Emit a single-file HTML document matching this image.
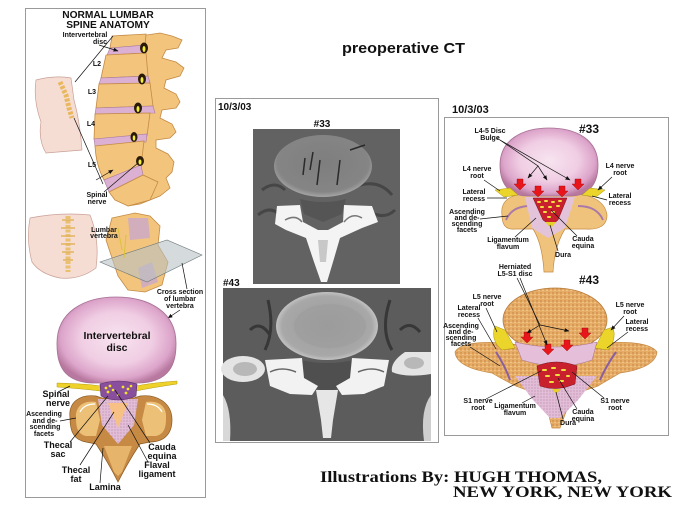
<!DOCTYPE html>
<html><head><meta charset="utf-8"><style>
html,body{margin:0;padding:0;background:#fff;}
svg{display:block;}
text{font-family:"Liberation Sans",sans-serif;font-weight:bold;fill:#111;}
.l{font-size:7px;text-anchor:middle;}
.m{font-size:9px;text-anchor:middle;}
.ln{stroke:#111;stroke-width:0.7;fill:none;}
.tan{fill:#f2c47c;stroke:#c48a44;stroke-width:0.8;}
.disc{fill:#dcb0d2;stroke:#a87a9e;stroke-width:0.6;}
.serif{font-family:"Liberation Serif",serif;font-weight:bold;}
</style></head><body>
<svg width="678" height="510" viewBox="0 0 678 510" xmlns="http://www.w3.org/2000/svg">
<defs>
 <radialGradient id="pk" cx="50%" cy="48%" r="55%">
  <stop offset="0" stop-color="#f7e4f0"/>
  <stop offset="0.55" stop-color="#f0cde3"/>
  <stop offset="0.85" stop-color="#dca4ca"/>
  <stop offset="1" stop-color="#b8789f"/>
 </radialGradient>
 <radialGradient id="ctb" cx="50%" cy="50%" r="55%">
  <stop offset="0" stop-color="#9a9a9a"/>
  <stop offset="0.8" stop-color="#a8a8a8"/>
  <stop offset="1" stop-color="#d8d8d8"/>
 </radialGradient>
 <radialGradient id="ctb2" cx="50%" cy="45%" r="55%">
  <stop offset="0" stop-color="#7e7e7e"/>
  <stop offset="0.85" stop-color="#858585"/>
  <stop offset="1" stop-color="#a6a6a6"/>
 </radialGradient>
 <pattern id="sp" width="4" height="4" patternUnits="userSpaceOnUse">
  <rect width="4" height="4" fill="#e6ac66"/>
  <circle cx="1" cy="1" r="0.7" fill="#c08040"/>
  <circle cx="3" cy="2.5" r="0.6" fill="#f7d9a3"/>
 </pattern>
 <pattern id="pp" width="3" height="3" patternUnits="userSpaceOnUse">
  <rect width="3" height="3" fill="#e2bdd8"/>
  <circle cx="1" cy="1" r="0.6" fill="#b88aa8"/>
 </pattern>
 <marker id="a" markerUnits="userSpaceOnUse" markerWidth="5" markerHeight="4" refX="4.5" refY="2" orient="auto">
  <path d="M0,0 L5,2 L0,4 z" fill="#111"/>
 </marker>
 <g id="rar"><path d="M-3,-5 L3,-5 L3,0 L6,0 L0,6 L-6,0 L-3,0 Z" fill="#e8151b" stroke="#9a0a0a" stroke-width="0.4"/></g>
</defs>

<!-- ============ LEFT PANEL ============ -->
<rect x="25.5" y="8.5" width="180" height="489" fill="#fff" stroke="#9a9a9a"/>
<text x="108" y="18" font-size="10.2" text-anchor="middle">NORMAL LUMBAR</text>
<text x="108" y="28" font-size="10.2" text-anchor="middle">SPINE ANATOMY</text>

<!-- torso side -->
<path d="M36,80 Q55,75 71,78 L74,100 Q80,122 82,150 L46,153 Q38,140 41,122 Q33,100 36,80 Z" fill="#f5ddd4" stroke="#c9a096" stroke-width="0.7"/>
<path d="M60,82 L66,95 L69,108 L72,118" stroke="#e9b85e" stroke-width="5" fill="none" stroke-dasharray="3 1.5"/>

<!-- spine posterior -->
<path class="tan" d="M140,36 L160,33 L172,36 L182,40 L178,48 L166,50 L162,58 L176,62 L184,68 L180,76 L166,80 L164,88 L176,94 L180,102 L176,108 L162,110 L160,118 L172,124 L176,132 L170,138 L156,140 L156,148 L168,154 L174,162 L172,172 L166,178 L170,188 L160,196 L150,200 L140,204 L128,206 L118,200 L138,176 L136,150 L140,130 L145,110 L148,85 L146,60 Z"/>
<!-- bodies -->
<path class="tan" d="M112,36 L146,34 L145,46 L110,48 Z"/>
<path class="disc" d="M110,48 L145,45 L145,53 L107,55 Z"/>
<path class="tan" d="M106,55 L146,53 L148,76 L101,78 Z"/>
<path class="disc" d="M101,78 L148,76 L150,83 L99,84 Z"/>
<path class="tan" d="M99,84 L150,83 L153,106 L96,108 Z"/>
<path class="disc" d="M96,108 L153,106 L155,113 L95,114 Z"/>
<path class="tan" d="M95,114 L150,113 L147,136 L94,139 Z"/>
<path class="disc" d="M94,139 L147,134 L146,142 L95,146 Z"/>
<path class="tan" d="M95,146 L144,141 L141,166 L104,180 Q96,165 95,146 Z"/>
<path class="disc" d="M104,180 L141,165 L143,175 L109,192 Z"/>
<path class="tan" d="M109,192 L143,175 L158,182 L150,200 L128,206 L115,200 Z"/>
<!-- foramina -->
<g fill="#2a1a08">
 <ellipse cx="144" cy="48" rx="4" ry="5.5"/>
 <ellipse cx="142" cy="79" rx="4" ry="5.5"/>
 <ellipse cx="138" cy="108" rx="4" ry="5.5"/>
 <ellipse cx="134" cy="137" rx="3.5" ry="5"/>
 <ellipse cx="140" cy="161" rx="4" ry="5"/>
</g>
<g fill="#f2ee3a">
 <ellipse cx="144" cy="49" rx="1.5" ry="3"/>
 <ellipse cx="142" cy="80" rx="1.5" ry="3"/>
 <ellipse cx="138" cy="109" rx="1.5" ry="3"/>
 <ellipse cx="134" cy="138" rx="1.3" ry="2.6"/>
 <ellipse cx="140" cy="162" rx="1.5" ry="2.6"/>
</g>
<text class="l" x="85" y="37" font-size="7.3">Intervertebral</text>
<text class="l" x="100" y="44">disc</text>
<line class="ln" x1="99" y1="45" x2="118" y2="51" marker-end="url(#a)"/>
<line class="ln" x1="75" y1="82" x2="113" y2="36"/>
<line class="ln" x1="74" y1="118" x2="103" y2="184"/>
<text class="l" x="97" y="66" font-size="6">L2</text>
<text class="l" x="92" y="94" font-size="6">L3</text>
<text class="l" x="91" y="126" font-size="6">L4</text>
<text class="l" x="92" y="167" font-size="6">L5</text>
<line class="ln" x1="96" y1="180" x2="113" y2="170" marker-end="url(#a)"/>
<line class="ln" x1="104" y1="192" x2="138" y2="163"/>
<text class="l" x="97" y="197">Spinal</text>
<text class="l" x="97" y="204">nerve</text>

<!-- back torso second row -->
<path d="M30,218 Q60,212 90,215 Q100,240 96,268 Q80,280 60,278 Q40,274 32,262 Q26,240 30,218 Z" fill="#f5ddd4" stroke="#c9a096" stroke-width="0.7"/>
<path d="M68,216 L68,272" stroke="#e9c070" stroke-width="5" stroke-dasharray="3 1.5"/>
<path d="M62,220 L74,220 M61,228 L75,228 M61,236 L75,236 M61,244 L75,244 M62,252 L74,252 M63,260 L73,260" stroke="#e3b35e" stroke-width="1.4"/>
<!-- vertebra 3D with plane -->
<path class="tan" d="M112,218 L135,213 L150,216 L160,226 L158,245 L168,262 L162,285 L145,292 L128,290 L118,276 L112,258 L106,240 Z"/>
<path d="M128,218 L148,218 L150,238 L130,240 Z" fill="#c9a8cc" opacity="0.8"/>
<path d="M138,268 L152,262 L158,282 L142,288 Z" fill="#c9a8cc" opacity="0.8"/>
<path d="M100,262 L167,240 L202,255 L147,282 Z" fill="#b9c2c4" fill-opacity="0.6" stroke="#6d7a7c" stroke-width="0.6"/>
<path d="M118,228 L122,250 M126,235 L124,258" stroke="#d9c33a" stroke-width="1"/>
<text class="l" x="104" y="232" font-size="5.5">Lumbar</text>
<text class="l" x="104" y="238" font-size="5.5">vertebra</text>
<line class="ln" x1="182" y1="263" x2="187" y2="289"/>
<text class="l" x="180" y="294" font-size="7.3">Cross section</text>
<text class="l" x="180" y="301" font-size="7.3">of lumbar</text>
<text class="l" x="180" y="308" font-size="7.3">vertebra</text>
<line class="ln" x1="180" y1="310" x2="168" y2="318" marker-end="url(#a)"/>

<!-- big disc -->
<path d="M57,345 C56,312 84,297 116,297 C149,297 177,312 176,345 C176,370 164,382 140,383 L92,383 C68,382 57,370 57,345 Z" fill="url(#pk)" stroke="#a77096" stroke-width="0.8"/>
<text x="117" y="339" font-size="10.5" text-anchor="middle">Intervertebral</text>
<text x="117" y="351" font-size="10.5" text-anchor="middle">disc</text>
<!-- nerve -->
<path d="M57,383 Q90,384 100,386 L136,386 Q150,383 177,381 L177,384 Q150,388 136,391 L100,391 Q85,389 57,387 Z" fill="#eed22a" stroke="#b59a12" stroke-width="0.5"/>
<!-- lower vertebra -->
<path d="M70,418 C68,402 80,394 96,396 L102,398 L134,398 L140,396 C156,394 172,402 172,420 C172,434 164,442 150,442 L140,444 C132,456 124,470 118,482 C112,470 104,456 96,444 L86,442 C74,440 70,432 70,418 Z" fill="#c68a45" stroke="#8a5a22" stroke-width="0.7"/>
<path d="M76,418 C75,406 84,400 96,402 L100,420 L96,436 L86,436 C78,434 76,428 76,418 Z" fill="#edc077"/>
<path d="M166,418 C167,406 158,400 146,402 L142,420 L146,436 L156,436 C164,434 166,428 166,418 Z" fill="#edc077"/>
<path d="M104,446 L132,446 L122,472 L118,476 L114,472 Z" fill="#e6b46b"/>
<path d="M98,399 L138,399 L134,425 L118,444 L102,425 Z" fill="url(#pp)"/>
<path d="M108,403 L128,403 L118,428 Z" fill="#f7c185"/>
<path d="M80,412 Q84,404 95,404" stroke="#fff" stroke-width="1.2" fill="none"/>
<path d="M162,412 Q158,404 147,404" stroke="#fff" stroke-width="1.2" fill="none"/>
<!-- thecal sac -->
<path d="M100,384 Q118,378 137,384 L136,396 Q118,404 101,396 Z" fill="#8a4f9c" stroke="#5a2d6a" stroke-width="0.6"/>
<g fill="#f2e22a">
 <circle cx="106" cy="388" r="1.4"/><circle cx="110" cy="386" r="1.4"/><circle cx="108" cy="392" r="1.4"/><circle cx="113" cy="390" r="1.3"/>
 <circle cx="123" cy="387" r="1.4"/><circle cx="128" cy="389" r="1.4"/><circle cx="126" cy="393" r="1.4"/><circle cx="131" cy="386" r="1.3"/><circle cx="118" cy="395" r="1.2"/>
</g>
<text class="m" x="56" y="397">Spinal</text>
<text class="m" x="58" y="406">nerve</text>
<line class="ln" x1="58" y1="392" x2="70" y2="386"/>
<text class="l" x="44" y="416" font-size="7.3">Ascending</text>
<text class="l" x="45" y="423" font-size="7.3">and de-</text>
<text class="l" x="45" y="429" font-size="7.3">scending</text>
<text class="l" x="44" y="436" font-size="7.3">facets</text>
<line class="ln" x1="60" y1="421" x2="76" y2="418"/>
<text class="m" x="58" y="448">Thecal</text>
<text class="m" x="58" y="457">sac</text>
<line class="ln" x1="70" y1="442" x2="108" y2="396"/>
<text class="m" x="162" y="450">Cauda</text>
<text class="m" x="162" y="459">equina</text>
<line class="ln" x1="150" y1="443" x2="115" y2="390"/>
<text class="m" x="157" y="468">Flaval</text>
<text class="m" x="157" y="477">ligament</text>
<line class="ln" x1="148" y1="462" x2="128" y2="425"/>
<text class="m" x="76" y="473">Thecal</text>
<text class="m" x="76" y="482">fat</text>
<line class="ln" x1="80" y1="465" x2="114" y2="412"/>
<text class="m" x="105" y="490">Lamina</text>
<line class="ln" x1="100" y1="483" x2="103" y2="448"/>

<!-- ============ TITLE ============ -->
<text x="342" y="53" font-size="15" textLength="123" lengthAdjust="spacingAndGlyphs">preoperative CT</text>

<!-- ============ MIDDLE PANEL ============ -->
<rect x="215.5" y="98.5" width="223" height="344" fill="#fff" stroke="#9a9a9a"/>
<text x="218" y="110" font-size="10">10/3/03</text>
<text x="322" y="127" font-size="10" text-anchor="middle">#33</text>
<!-- CT 33 -->
<rect x="253" y="129" width="147" height="155" fill="#626262"/>
<path d="M262,190 Q275,180 285,190 M360,185 Q380,180 392,195 M258,215 Q270,205 280,215 M370,212 Q385,220 395,210" stroke="#3a3a3a" stroke-width="3" fill="none" opacity="0.7"/>
<ellipse cx="323" cy="166" rx="49" ry="31" fill="url(#ctb2)"/>
<path d="M305,158 L303,175 M313,152 L310,170 M320,160 L317,185 M340,160 L337,185 M350,150 L365,145" stroke="#2a2a2a" stroke-width="1.5" fill="none"/>
<path d="M300,199 Q323,205 346,199 L342,214 L323,222 L304,214 Z" fill="#555"/>
<path d="M277,206 L300,205 L303,222 L318,230 L328,230 L343,222 L344,205 L372,206 L378,222 L362,228 L340,238 L333,262 L327,282 L321,282 L314,262 L306,238 L286,230 L275,224 Z" fill="#f4f4f4"/>
<path d="M285,220 Q296,214 302,222" stroke="#777" stroke-width="1.5" fill="none"/>
<path d="M362,218 Q352,212 344,222" stroke="#777" stroke-width="1.5" fill="none"/>
<path d="M318,240 L328,240 L326,262 L320,262 Z" fill="#c8c8c8"/>
<text x="223" y="286" font-size="10">#43</text>
<!-- CT 43 -->
<rect x="223" y="288" width="208" height="153" fill="#5c5c5c"/>
<path d="M268,300 Q275,330 265,350 M390,300 Q380,330 392,350 M250,330 Q260,320 270,335 M400,330 Q410,320 420,332" stroke="#2e2e2e" stroke-width="3" fill="none" opacity="0.8"/>
<ellipse cx="327" cy="326" rx="51" ry="34" fill="url(#ctb)"/>
<ellipse cx="330" cy="326" rx="36" ry="22" fill="#9c9c9c" opacity="0.6"/>
<path d="M300,360 Q327,366 354,360 L352,380 L327,394 L302,380 Z" fill="#4f4f4f"/>
<path d="M265,360 L302,358 L304,378 L318,386 L312,395 L290,394 L270,386 Z" fill="#f2f2f2"/>
<path d="M389,360 L352,358 L350,378 L336,386 L342,395 L364,394 L384,386 Z" fill="#f2f2f2"/>
<path d="M270,372 Q282,366 296,372" stroke="#666" stroke-width="1.5" fill="none"/>
<path d="M384,372 Q372,366 358,372" stroke="#666" stroke-width="1.5" fill="none"/>
<path d="M316,390 L338,390 L333,420 L331,438 L323,438 L321,420 Z" fill="#e6e6e6"/>
<ellipse cx="243" cy="369" rx="22" ry="13" fill="#e4e4e4"/>
<ellipse cx="245" cy="369" rx="12" ry="7" fill="#b8b8b8"/>
<path d="M431,352 L405,352 Q390,362 392,372 Q405,378 431,374 Z" fill="#e4e4e4"/>
<ellipse cx="414" cy="363" rx="10" ry="6" fill="#b8b8b8"/>
<path d="M223,395 Q232,410 230,441 L223,441 Z" fill="#d8d8d8"/>
<path d="M431,395 Q420,410 424,441 L431,441 Z" fill="#cfcfcf"/>

<!-- ============ RIGHT PANEL ============ -->
<text x="452" y="113" font-size="11">10/3/03</text>
<rect x="444.5" y="117.5" width="224" height="318" fill="#fff" stroke="#9a9a9a"/>
<text x="589" y="133" font-size="12" text-anchor="middle">#33</text>
<!-- #33 vertebra -->
<path d="M502,215 C500,200 512,193 530,194 L570,194 C588,193 605,200 607,215 C607,226 598,230 586,229 L565,229 C558,240 554,255 553,272 L544,272 C543,255 540,240 533,229 L515,229 C505,230 502,224 502,215 Z" fill="#f0c37c" stroke="#c48a44" stroke-width="0.7"/>
<path d="M506,220 Q512,206 530,206" stroke="#a97aa8" stroke-width="2" fill="none"/>
<path d="M603,220 Q597,206 578,206" stroke="#a97aa8" stroke-width="2" fill="none"/>
<path d="M525,197 L575,197 L565,228 L548,238 L532,228 Z" fill="#e3c3da"/>
<!-- disc -->
<path d="M500,165 C500,140 522,128 549,128 C577,128 598,140 598,165 C598,185 588,196 570,196 L528,196 C510,196 500,185 500,165 Z" fill="url(#pk)" stroke="#a77096" stroke-width="0.8"/>
<path d="M533,198 L567,198 L558,220 L551,226 L543,220 Z" fill="#c8202c" stroke="#7a1020" stroke-width="0.5"/>
<path d="M545,222 L556,222 L551,228 Z" fill="#e8d02a"/>
<g fill="#f0e040">
 <rect x="537" y="201" width="4" height="2" rx="1"/><rect x="544" y="200" width="4" height="2" rx="1"/><rect x="551" y="201" width="4" height="2" rx="1"/><rect x="558" y="200" width="4" height="2" rx="1"/>
 <rect x="540" y="206" width="4" height="2" rx="1"/><rect x="548" y="206" width="4" height="2" rx="1"/><rect x="556" y="205" width="4" height="2" rx="1"/>
 <rect x="543" y="211" width="4" height="2" rx="1"/><rect x="551" y="211" width="4" height="2" rx="1"/><rect x="547" y="216" width="4" height="2" rx="1"/>
</g>
<path d="M495,190 L510,188 L518,195 L504,197 Z" fill="#ecd52a" stroke="#a89310" stroke-width="0.5"/>
<path d="M605,190 L590,188 L582,195 L596,197 Z" fill="#ecd52a" stroke="#a89310" stroke-width="0.5"/>
<use href="#rar" x="520" y="184"/>
<use href="#rar" x="538" y="191"/>
<use href="#rar" x="562" y="191"/>
<use href="#rar" x="578" y="184"/>
<text class="l" x="490" y="133">L4-5 Disc</text>
<text class="l" x="490" y="140">Bulge</text>
<path class="ln" d="M497,138 L538,166 L528,178" marker-end="url(#a)"/>
<line class="ln" x1="538" y1="166" x2="547" y2="180" marker-end="url(#a)"/>
<line class="ln" x1="500" y1="140" x2="570" y2="180" marker-end="url(#a)"/>
<text class="l" x="477" y="171">L4 nerve</text>
<text class="l" x="477" y="178">root</text>
<line class="ln" x1="484" y1="180" x2="500" y2="191"/>
<text class="l" x="620" y="168">L4 nerve</text>
<text class="l" x="620" y="175">root</text>
<line class="ln" x1="612" y1="177" x2="598" y2="190" marker-end="url(#a)"/>
<text class="l" x="474" y="194">Lateral</text>
<text class="l" x="474" y="201">recess</text>
<line class="ln" x1="487" y1="198" x2="507" y2="198"/>
<text class="l" x="620" y="198">Lateral</text>
<text class="l" x="620" y="205">recess</text>
<line class="ln" x1="607" y1="200" x2="592" y2="196"/>
<text class="l" x="467" y="214">Ascending</text>
<text class="l" x="467" y="220">and de-</text>
<text class="l" x="467" y="226">scending</text>
<text class="l" x="467" y="232">facets</text>
<line class="ln" x1="480" y1="219" x2="508" y2="216"/>
<text class="l" x="508" y="242">Ligamentum</text>
<text class="l" x="508" y="249">flavum</text>
<line class="ln" x1="515" y1="237" x2="536" y2="218"/>
<text class="l" x="583" y="241">Cauda</text>
<text class="l" x="583" y="248">equina</text>
<line class="ln" x1="577" y1="236" x2="551" y2="210"/>
<text class="l" x="563" y="257">Dura</text>
<line class="ln" x1="558" y1="251" x2="550" y2="225"/>

<!-- #43 -->
<text x="589" y="284" font-size="12" text-anchor="middle">#43</text>
<text class="l" x="515" y="269">Herniated</text>
<text class="l" x="515" y="276">L5-S1 disc</text>
<!-- wings -->
<path d="M455,352 C460,342 490,340 518,345 L592,345 C620,340 650,342 657,352 C656,364 640,370 620,373 C612,378 604,382 598,386 L580,392 L566,412 L560,428 L552,428 L548,412 L532,392 L516,386 C508,382 500,378 492,373 C472,370 456,364 455,352 Z" fill="url(#sp)" stroke="#c48a44" stroke-width="0.7"/>
<path d="M515,376 L597,376 L578,400 L560,418 L550,418 L533,400 Z" fill="url(#pp)"/>
<path d="M496,352 Q505,366 510,380" stroke="#8a5fa0" stroke-width="2" fill="none"/>
<path d="M616,352 Q606,366 600,380" stroke="#8a5fa0" stroke-width="2" fill="none"/>
<!-- disc tan -->
<ellipse cx="555" cy="320" rx="52" ry="32" fill="url(#sp)" stroke="#b77a3a" stroke-width="0.8"/>
<path d="M515,342 Q555,352 597,342 L592,360 Q560,372 522,360 Z" fill="#e5bfd9" stroke="#a77096" stroke-width="0.5"/>
<path d="M537,366 Q556,358 577,366 L575,384 Q557,392 540,386 Z" fill="#c8202c" stroke="#7a1020" stroke-width="0.5"/>
<g fill="#f0e040">
 <rect x="542" y="369" width="5" height="2" rx="1"/><rect x="551" y="367" width="5" height="2" rx="1"/><rect x="561" y="369" width="5" height="2" rx="1"/>
 <rect x="545" y="375" width="5" height="2" rx="1"/><rect x="555" y="374" width="5" height="2" rx="1"/><rect x="566" y="375" width="4" height="2" rx="1"/>
 <rect x="549" y="381" width="5" height="2" rx="1"/><rect x="559" y="380" width="5" height="2" rx="1"/>
</g>
<path d="M552,389 L561,389 L556,394 Z" fill="#e8d02a"/>
<path d="M495,326 L505,330 L515,348 L502,350 Q490,340 495,326 Z" fill="#ecd52a" stroke="#a89310" stroke-width="0.5"/>
<path d="M613,327 L604,330 L595,348 L608,350 Q617,340 613,327 Z" fill="#ecd52a" stroke="#a89310" stroke-width="0.5"/>
<use href="#rar" x="527" y="337"/>
<use href="#rar" x="548" y="349"/>
<use href="#rar" x="567" y="345"/>
<use href="#rar" x="585" y="333"/>
<path class="ln" d="M517,278 L540,325 L527,333" marker-end="url(#a)"/>
<line class="ln" x1="540" y1="325" x2="569" y2="331" marker-end="url(#a)"/>
<line class="ln" x1="520" y1="278" x2="547" y2="345" marker-end="url(#a)"/>
<text class="l" x="487" y="299">L5 nerve</text>
<text class="l" x="487" y="306">root</text>
<line class="ln" x1="486" y1="308" x2="497" y2="332"/>
<text class="l" x="469" y="310">Lateral</text>
<text class="l" x="469" y="317">recess</text>
<line class="ln" x1="478" y1="318" x2="496" y2="349"/>
<text class="l" x="461" y="328">Ascending</text>
<text class="l" x="461" y="334">and de-</text>
<text class="l" x="461" y="340">scending</text>
<text class="l" x="461" y="346">facets</text>
<line class="ln" x1="470" y1="347" x2="500" y2="366"/>
<text class="l" x="630" y="307">L5 nerve</text>
<text class="l" x="630" y="314">root</text>
<line class="ln" x1="624" y1="316" x2="611" y2="330" marker-end="url(#a)"/>
<text class="l" x="637" y="324">Lateral</text>
<text class="l" x="637" y="331">recess</text>
<line class="ln" x1="628" y1="332" x2="607" y2="348"/>
<text class="l" x="478" y="403">S1 nerve</text>
<text class="l" x="478" y="410">root</text>
<line class="ln" x1="486" y1="399" x2="541" y2="371"/>
<text class="l" x="515" y="408">Ligamentum</text>
<text class="l" x="515" y="415">flavum</text>
<line class="ln" x1="522" y1="403" x2="535" y2="396"/>
<text class="l" x="583" y="414">Cauda</text>
<text class="l" x="583" y="421">equina</text>
<line class="ln" x1="577" y1="409" x2="558" y2="378"/>
<text class="l" x="568" y="425">Dura</text>
<line class="ln" x1="563" y1="419" x2="556" y2="392"/>
<text class="l" x="615" y="403">S1 nerve</text>
<text class="l" x="615" y="410">root</text>
<line class="ln" x1="604" y1="398" x2="572" y2="372"/>

<!-- ============ CREDITS ============ -->
<text class="serif" x="320" y="482" font-size="16" textLength="282" lengthAdjust="spacingAndGlyphs">Illustrations By: HUGH THOMAS,</text>
<text class="serif" x="453" y="497" font-size="16" textLength="219" lengthAdjust="spacingAndGlyphs">NEW YORK, NEW YORK</text>
</svg>
</body></html>
